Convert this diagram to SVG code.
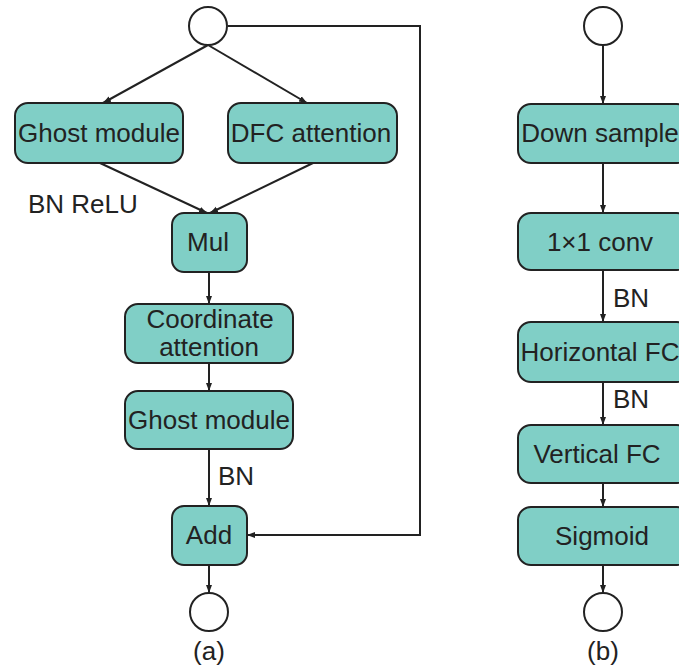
<svg xmlns="http://www.w3.org/2000/svg" width="679" height="672" viewBox="0 0 679 672">
<style>
.box{fill:#80cfc6;stroke:#222;stroke-width:2}
.circ{fill:#fff;stroke:#222;stroke-width:2}
.t{font-family:"Liberation Sans",Arial,sans-serif;font-size:26px;fill:#222;text-anchor:middle}
.l{font-family:"Liberation Sans",Arial,sans-serif;font-size:26px;fill:#222}
.c{fill:none;stroke:#222;stroke-width:2}
</style>
<defs>
<marker id="ah" markerUnits="userSpaceOnUse" markerWidth="8" markerHeight="8" viewBox="0 0 8 8" refX="8" refY="4" orient="auto">
<path d="M0,1 L8,4 L0,7 Z" fill="#222"/>
</marker>
</defs>
<rect width="679" height="672" fill="#fff"/>
<g id="connectors">
<line class="c" x1="208" y1="45" x2="103" y2="103" marker-end="url(#ah)"/>
<line class="c" x1="208" y1="45" x2="307" y2="103" marker-end="url(#ah)"/>
<line class="c" x1="100" y1="163" x2="207" y2="213" marker-end="url(#ah)"/>
<line class="c" x1="313" y1="163" x2="210" y2="213" marker-end="url(#ah)"/>
<line class="c" x1="209" y1="272" x2="209" y2="304" marker-end="url(#ah)"/>
<line class="c" x1="209" y1="363" x2="209" y2="391" marker-end="url(#ah)"/>
<line class="c" x1="209" y1="449" x2="209" y2="506" marker-end="url(#ah)"/>
<line class="c" x1="209" y1="565" x2="209" y2="593" marker-end="url(#ah)"/>
<polyline class="c" points="228,26 420,26 420,535 247,535" marker-end="url(#ah)"/>
<line class="c" x1="603" y1="45" x2="603" y2="104" marker-end="url(#ah)"/>
<line class="c" x1="603" y1="163" x2="603" y2="213" marker-end="url(#ah)"/>
<line class="c" x1="603" y1="270" x2="603" y2="322" marker-end="url(#ah)"/>
<line class="c" x1="603" y1="382" x2="603" y2="425" marker-end="url(#ah)"/>
<line class="c" x1="603" y1="483" x2="603" y2="507" marker-end="url(#ah)"/>
<line class="c" x1="603" y1="565" x2="603" y2="593" marker-end="url(#ah)"/>
<text class="l" x="28" y="213">BN ReLU</text>
<text class="l" x="218" y="485">BN</text>
<text class="l" x="613" y="307">BN</text>
<text class="l" x="613" y="408">BN</text>
</g>
<g id="in_a"><circle class="circ" cx="208" cy="26" r="19"/></g>
<g id="ghost1"><rect class="box" x="15" y="103" width="168" height="60" rx="13"/><text class="t" x="99" y="142">Ghost module</text></g>
<g id="dfc"><rect class="box" x="228" y="103" width="169" height="60" rx="13"/><text class="t" x="311" y="142">DFC attention</text></g>
<g id="mul"><rect class="box" x="172" y="213" width="75" height="59" rx="12"/><text class="t" x="208" y="251">Mul</text></g>
<g id="coord"><rect class="box" x="125" y="304" width="168" height="59" rx="13"/><text class="t" x="210" y="328">Coordinate</text><text class="t" x="209" y="356">attention</text></g>
<g id="ghost2"><rect class="box" x="125" y="391" width="168" height="58" rx="13"/><text class="t" x="209" y="429">Ghost module</text></g>
<g id="add"><rect class="box" x="172" y="506" width="75" height="59" rx="12"/><text class="t" x="209" y="544">Add</text></g>
<g id="out_a"><circle class="circ" cx="209" cy="612" r="19"/></g>
<text class="t" x="209" y="660">(a)</text>
<g id="in_b"><circle class="circ" cx="603" cy="26" r="19"/></g>
<g id="down"><rect class="box" x="518" y="104" width="172" height="59" rx="13"/><text class="t" x="600" y="142">Down sample</text></g>
<g id="conv"><rect class="box" x="518" y="213" width="172" height="57" rx="13"/><text class="t" x="600" y="251">1×1 conv</text></g>
<g id="hfc"><rect class="box" x="518" y="322" width="172" height="60" rx="13"/><text class="t" x="600" y="361">Horizontal FC</text></g>
<g id="vfc"><rect class="box" x="518" y="425" width="172" height="58" rx="13"/><text class="t" x="597" y="463">Vertical FC</text></g>
<g id="sig"><rect class="box" x="518" y="507" width="172" height="58" rx="13"/><text class="t" x="602" y="545">Sigmoid</text></g>
<g id="out_b"><circle class="circ" cx="603" cy="612" r="19"/></g>
<text class="t" x="603" y="660">(b)</text>
</svg>
